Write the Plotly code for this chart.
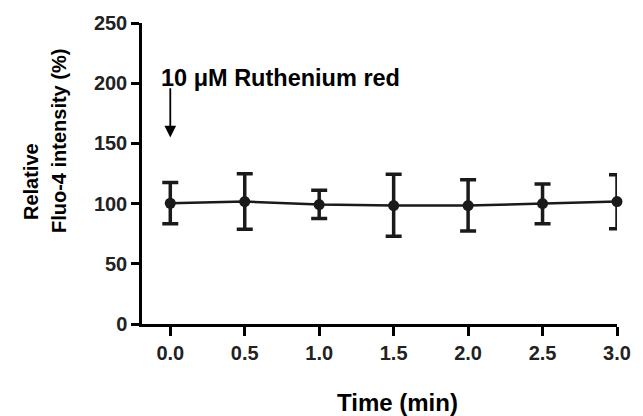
import plotly.graph_objects as go

time_min = [0.0, 0.5, 1.0, 1.5, 2.0, 2.5, 3.0]
intensity = [100.3, 101.7, 99.2, 98.4, 98.4, 100.0, 101.7]
err_plus = [17.3, 23.0, 11.8, 26.0, 21.4, 16.2, 22.2]
err_minus = [17.0, 23.0, 11.5, 25.5, 21.1, 16.7, 22.5]
x_ticks = [0.0, 0.5, 1.0, 1.5, 2.0, 2.5, 3.0]
x_tick_labels = ["0.0", "0.5", "1.0", "1.5", "2.0", "2.5", "3.0"]
y_ticks = [0, 50, 100, 150, 200, 250]

FONT = "Liberation Sans, Arial, sans-serif"
L, R, T, B = 142, 19, 20, 92
W, H = 643, 416
pw = W - L - R
ph = H - T - B

def px_x(p):
    return (p - L) / pw

def px_y(p):
    return (H - B - p) / ph

fig = go.Figure()
fig.add_trace(go.Scatter(
    x=time_min, y=intensity, mode="lines+markers",
    line=dict(color="#1a1a1a", width=2.5),
    marker=dict(color="#1a1a1a", size=11),
    error_y=dict(type="data", symmetric=False, array=err_plus, arrayminus=err_minus,
                 color="#1a1a1a", thickness=3.5, width=8),
    cliponaxis=False,
    showlegend=False,
))

fig.add_annotation(x=0, y=155, ax=0, ay=197, xref="x", yref="y", axref="x", ayref="y",
                   showarrow=True, arrowhead=2, arrowsize=1.3, arrowwidth=1.8,
                   arrowcolor="black", text="")
fig.add_annotation(x=-0.078, y=204, xref="x", yref="y", text="<b>10 μM Ruthenium red</b>",
                   showarrow=False, xanchor="left", yanchor="middle",
                   font=dict(family=FONT, size=23.5, color="black"))
fig.add_annotation(x=1.523, y=px_y(403), xref="x", yref="paper", text="<b>Time (min)</b>",
                   showarrow=False, xanchor="center", yanchor="middle",
                   font=dict(family=FONT, size=24, color="black"))
fig.add_annotation(x=px_x(30), y=px_y(180), xref="paper", yref="paper",
                   text="<b>Relative</b>", textangle=-90, showarrow=False,
                   xanchor="center", yanchor="middle",
                   font=dict(family=FONT, size=20, color="black"))
fig.add_annotation(x=px_x(58), y=px_y(139), xref="paper", yref="paper",
                   text="<b>Fluo-4 intensity (%)</b>", textangle=-90, showarrow=False,
                   xanchor="center", yanchor="middle",
                   font=dict(family=FONT, size=20, color="black"))

fig.update_layout(
    width=W, height=H,
    margin=dict(l=L, r=R, t=T, b=B),
    plot_bgcolor="white", paper_bgcolor="white",
    font=dict(family=FONT, size=16, color="black"),
)
fig.update_xaxes(
    range=[-0.19, 3.0], tickvals=x_ticks, ticktext=["<b>%s</b>" % t for t in x_tick_labels],
    showline=True, linecolor="black", linewidth=2.5, ticks="outside", ticklen=9,
    tickwidth=2.5, tickcolor="black", showgrid=False, zeroline=False,
    tickfont=dict(family=FONT, size=20, color="#222"),
)
fig.update_yaxes(
    range=[0, 250], tickvals=y_ticks, ticktext=["<b>%d</b>" % t for t in y_ticks],
    showline=True, linecolor="black", linewidth=2.5, ticks="outside", ticklen=8,
    tickwidth=2.5, tickcolor="black", showgrid=False, zeroline=False,
    tickfont=dict(family=FONT, size=20, color="#222"),
)

fig.write_html("out.html", config={"displayModeBar": False},
               post_script="document.body.style.margin='0';")
